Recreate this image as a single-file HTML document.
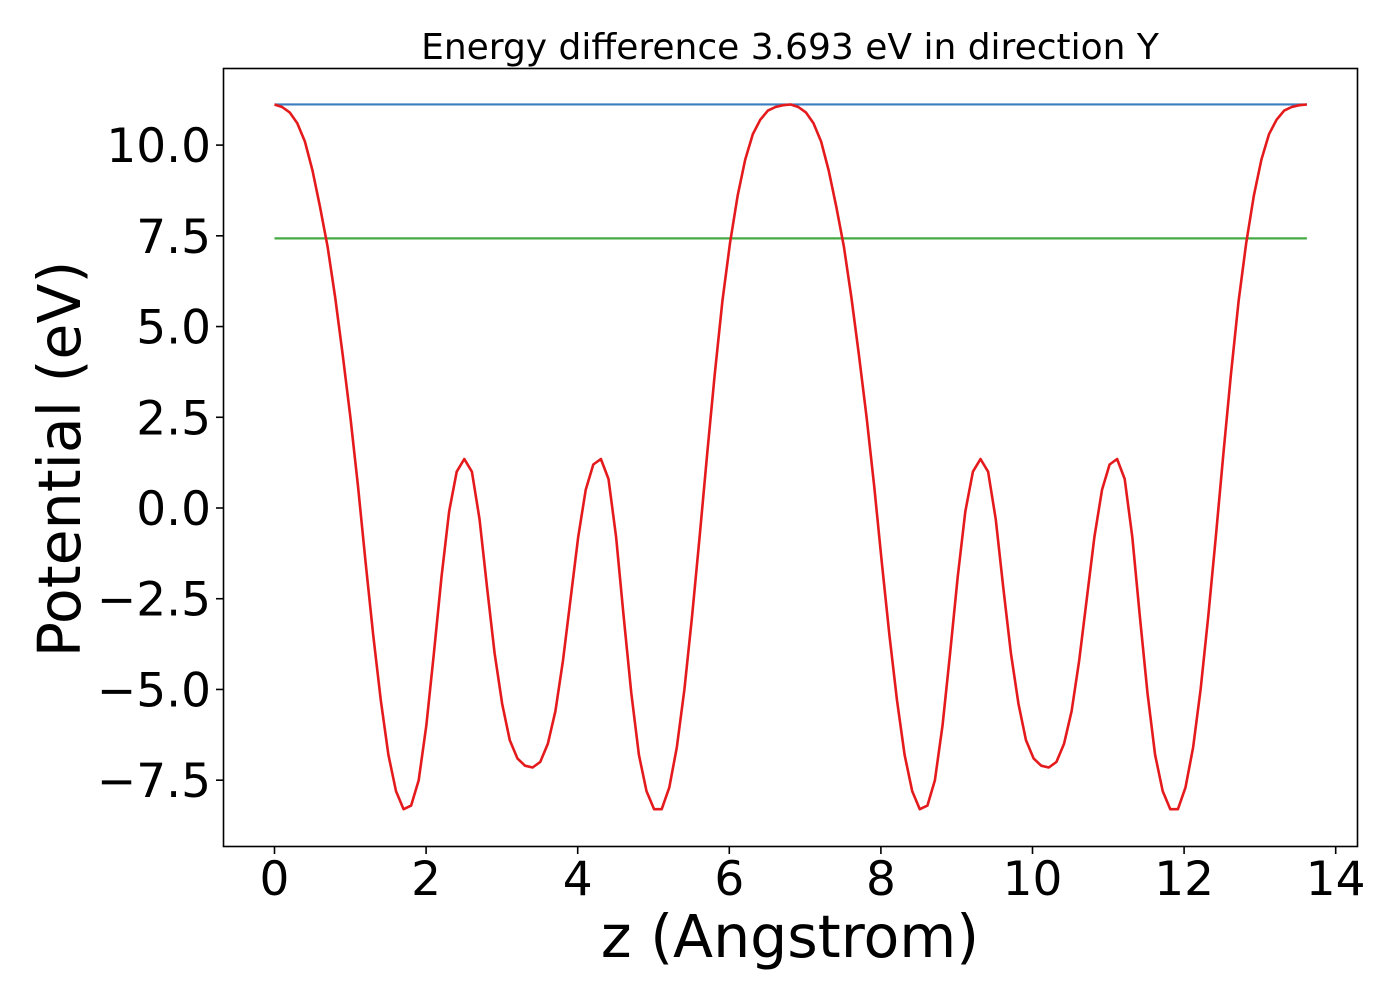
<!DOCTYPE html>
<html><head><meta charset="utf-8"><style>
body{margin:0;background:#fff}
svg text{font-family:"DejaVu Sans","Liberation Sans",sans-serif;fill:#000}
</style></head><body>
<svg width="1400" height="1000">
<text x="790" y="59" font-size="36" text-anchor="middle">Energy difference 3.693 eV in direction Y</text>
<g id="ticks"></g>
<g id="plot"></g>
<rect x="223.5" y="68.5" width="1134" height="778" fill="none" stroke="#000" stroke-width="1.6"/>
<text x="790" y="957" font-size="58.5" text-anchor="middle">z (Angstrom)</text>
<text transform="translate(80,459) rotate(-90)" font-size="58.5" text-anchor="middle">Potential (eV)</text>
</svg>
<script>
const xTicks=[0,2,4,6,8,10,12,14];
const yTicks=[-7.5,-5.0,-2.5,0.0,2.5,5.0,7.5,10.0];
const blueLevel=11.12;
const greenLevel=7.43;
const xStart=0, xEnd=13.62;
const zStep=0.10015;
const potential=[11.12,11.05,10.9,10.6,10.1,9.3,8.3,7.2,5.8,4.2,2.5,0.6,-1.5,-3.5,-5.3,-6.8,-7.8,-8.3,-8.2,-7.5,-6.0,-4.0,-1.9,-0.1,1.0,1.35,1.0,-0.3,-2.2,-4.0,-5.4,-6.4,-6.9,-7.1,-7.15,-7.0,-6.5,-5.6,-4.2,-2.5,-0.8,0.5,1.2,1.35,0.8,-0.8,-3.0,-5.1,-6.8,-7.8,-8.3,-8.3,-7.7,-6.6,-5.0,-3.0,-0.8,1.5,3.7,5.7,7.3,8.6,9.6,10.3,10.7,10.95,11.05,11.1,11.12,
11.05,10.9,10.6,10.1,9.3,8.3,7.2,5.8,4.2,2.5,0.6,-1.5,-3.5,-5.3,-6.8,-7.8,-8.3,-8.2,-7.5,-6.0,-4.0,-1.9,-0.1,1.0,1.35,1.0,-0.3,-2.2,-4.0,-5.4,-6.4,-6.9,-7.1,-7.15,-7.0,-6.5,-5.6,-4.2,-2.5,-0.8,0.5,1.2,1.35,0.8,-0.8,-3.0,-5.1,-6.8,-7.8,-8.3,-8.3,-7.7,-6.6,-5.0,-3.0,-0.8,1.5,3.7,5.7,7.3,8.6,9.6,10.3,10.7,10.95,11.05,11.1,11.12];
const X=v=>274.5+v*75.8;
const Y=v=>508-v*36.29;
const NS='http://www.w3.org/2000/svg';
function mk(t,a,p){const e=document.createElementNS(NS,t);for(const k in a)e.setAttribute(k,a[k]);p.appendChild(e);return e;}
const tg=document.getElementById('ticks'), pg=document.getElementById('plot');
xTicks.forEach(v=>{
 const l=mk('line',{x1:X(v),x2:X(v),y1:847,y2:854,stroke:'#000','stroke-width':1.6},tg);
 
 
 const t=mk('text',{x:X(v),y:895,'font-size':47,'text-anchor':'middle'},tg);t.textContent=v;
 
 
});
yTicks.forEach(v=>{
 const l=mk('line',{x1:216,x2:223,y1:Y(v),y2:Y(v),stroke:'#000','stroke-width':1.6},tg);
 
 
 const t=mk('text',{x:211,y:Y(v)+17,'font-size':47,'text-anchor':'end'},tg);t.textContent=(v<0?'\u2212':'')+Math.abs(v).toFixed(1);
 
 
});
const b=mk('line',{x1:X(xStart),x2:X(xEnd),y1:Y(blueLevel),y2:Y(blueLevel),stroke:'#3a7ebf','stroke-width':2.2},pg);


const g=mk('line',{x1:X(xStart),x2:X(xEnd),y1:Y(greenLevel),y2:Y(greenLevel),stroke:'#44aa44','stroke-width':2.2},pg);


const pts=potential.map((v,i)=>X(i*zStep).toFixed(1)+','+Y(v).toFixed(1)).join(' ');
const r=mk('polyline',{points:pts,fill:'none',stroke:'#e41a1c','stroke-width':2.6,'stroke-linejoin':'round'},pg);


</script>
</body></html>
